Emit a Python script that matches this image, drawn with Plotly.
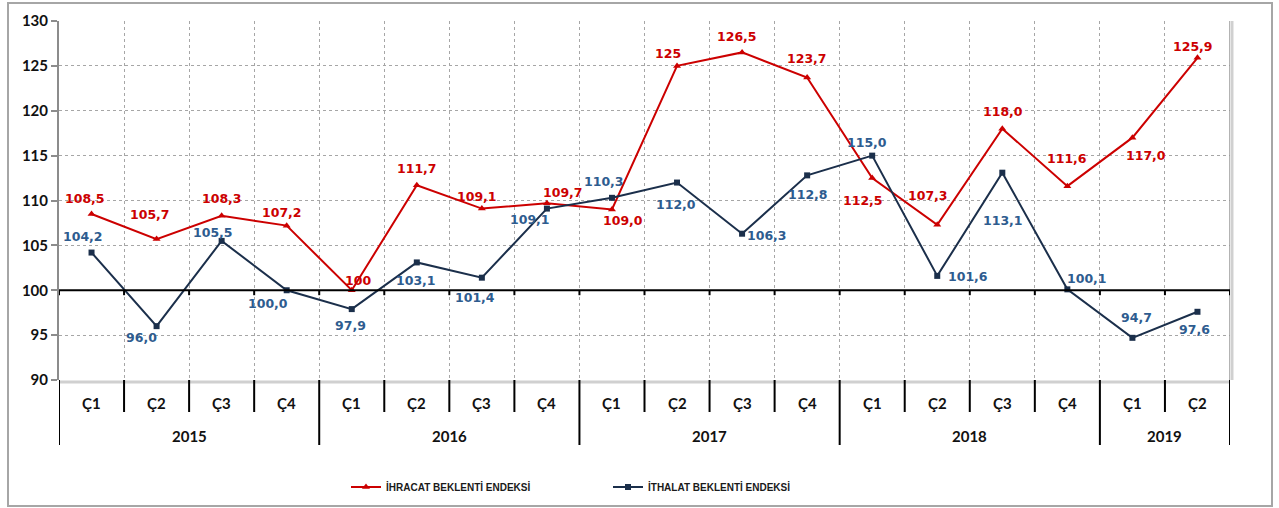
import plotly.graph_objects as go

# ---- data ----
years = ["2015", "2016", "2017", "2018", "2019"]
quarters_per_year = [["Ç1", "Ç2", "Ç3", "Ç4"]] * 4 + [["Ç1", "Ç2"]]
ihracat = [108.5, 105.7, 108.3, 107.2, 100.0, 111.7, 109.1, 109.7, 109.0,
           125.0, 126.5, 123.7, 112.5, 107.3, 118.0, 111.6, 117.0, 125.9]
ihracat_labels = ["108,5", "105,7", "108,3", "107,2", "100", "111,7", "109,1", "109,7", "109,0",
                  "125", "126,5", "123,7", "112,5", "107,3", "118,0", "111,6", "117,0", "125,9"]
ithalat = [104.2, 96.0, 105.5, 100.0, 97.9, 103.1, 101.4, 109.1, 110.3,
           112.0, 106.3, 112.8, 115.0, 101.6, 113.1, 100.1, 94.7, 97.6]
ithalat_labels = ["104,2", "96,0", "105,5", "100,0", "97,9", "103,1", "101,4", "109,1", "110,3",
                  "112,0", "106,3", "112,8", "115,0", "101,6", "113,1", "100,1", "94,7", "97,6"]
series_names = ["İHRACAT BEKLENTİ ENDEKSİ", "İTHALAT BEKLENTİ ENDEKSİ"]
y_ticks = [90, 95, 100, 105, 110, 115, 120, 125, 130]

# ---- label offsets (pixels: dx right, dy down) ----
red_off = [(-7, -15), (-7, -25), (0, -17), (-5, -13), (6, -10), (0, -17), (-5, -12), (16, -11),
           (11, 11), (-9, -12), (-5, -16), (0, -19), (-9, 22), (-9, -29), (1, -17), (0, -28),
           (14, 18), (-4, -11)]
blue_off = [(-9, -16), (-15, 11), (-9, -8), (-19, 13), (-1, 16), (-1, 18), (-7, 20), (-17, 11),
            (-8, -16), (-1, 22), (25, 2), (1, 19), (-5, -13), (31, 1), (1, 48), (20, -11),
            (4, -20), (-3, 18)]

RED = "#CC0000"
NAVY = "#1B2F4B"
BLUE_TXT = "#2E5C8F"
GRID = "#A6A6A6"

n = len(ihracat)
xs = list(range(n))

fig = go.Figure()
fig.add_trace(go.Scatter(
    x=xs, y=ihracat, mode="lines+markers", name=series_names[0],
    line=dict(color=RED, width=2),
    marker=dict(symbol="triangle-up", size=7, color=RED),
))
fig.add_trace(go.Scatter(
    x=xs, y=ithalat, mode="lines+markers", name=series_names[1],
    line=dict(color=NAVY, width=2),
    marker=dict(symbol="square", size=6, color=NAVY),
))

lab_font = dict(family="DejaVu Sans", size=12.5, weight="bold")
annotations = []
for i in range(n):
    dx, dy = red_off[i]
    annotations.append(dict(x=xs[i], y=ihracat[i], xref="x", yref="y", text=ihracat_labels[i],
                            showarrow=False, xshift=dx, yshift=-dy,
                            font=dict(color=RED, **lab_font)))
    dx, dy = blue_off[i]
    annotations.append(dict(x=xs[i], y=ithalat[i], xref="x", yref="y", text=ithalat_labels[i],
                            showarrow=False, xshift=dx, yshift=-dy,
                            font=dict(color=BLUE_TXT, **lab_font)))

axis_font = dict(family="Lato", size=15, color="#111111", weight="bold")
PH = 359.0  # plot height px
PW = 1171.0  # plot width px
def py(pix_below_bottom):
    return -pix_below_bottom / PH

shapes = []
# category labels and dividers
idx = 0
for yi, year in enumerate(years):
    qs = quarters_per_year[yi]
    start = idx
    for q in qs:
        annotations.append(dict(x=idx, y=py(23), xref="x", yref="paper", text=q, showarrow=False,
                                font=axis_font, yanchor="middle"))
        if idx != start:
            shapes.append(dict(type="line", xref="x", yref="paper", x0=idx - 0.5, x1=idx - 0.5,
                               y0=0, y1=py(32), line=dict(color="black", width=2)))
        idx += 1
    annotations.append(dict(x=(start + idx - 1) / 2, y=py(56), xref="x", yref="paper", text=year,
                            showarrow=False, font=axis_font, yanchor="middle"))
    shapes.append(dict(type="line", xref="x", yref="paper", x0=start - 0.5, x1=start - 0.5,
                       y0=0, y1=py(65), line=dict(color="black", width=2)))
shapes.append(dict(type="line", xref="x", yref="paper", x0=n - 0.5, x1=n - 0.5,
                   y0=0, y1=py(65), line=dict(color="black", width=2)))

# shadows of plot area (bottom & right)
shapes.append(dict(type="line", xref="x", yref="paper", x0=-0.5, x1=n - 0.5, y0=py(2), y1=py(2),
                   line=dict(color="#D0D0D0", width=3), layer="below"))
shapes.append(dict(type="line", xref="paper", yref="paper", x0=1.0017, x1=1.0017, y0=0, y1=1,
                   line=dict(color="#D0D0D0", width=3), layer="below"))
shapes.append(dict(type="line", xref="x", yref="paper", x0=n - 0.5, x1=n - 0.5, y0=0, y1=1,
                   line=dict(color="#9A9A9A", width=1.5)))

# 100 baseline with ticks
shapes.append(dict(type="line", xref="x", yref="y", x0=-0.5, x1=n - 0.5, y0=100, y1=100,
                   line=dict(color="black", width=2)))
for b in range(n + 1):
    shapes.append(dict(type="line", xref="x", yref="y", x0=b - 0.5, x1=b - 0.5, y0=100, y1=99.45,
                       line=dict(color="black", width=2)))

# outer frame
shapes.append(dict(type="rect", xref="paper", yref="paper",
                   x0=(8 - 59) / PW, x1=(1272 - 59) / PW, y0=(380 - 506) / PH, y1=(380 - 3) / PH,
                   line=dict(color="#A6A6A6", width=2), layer="below"))

fig.update_layout(
    width=1279, height=508,
    margin=dict(l=59, r=49, t=21, b=128, autoexpand=False),
    paper_bgcolor="white", plot_bgcolor="white",
    showlegend=True,
    legend=dict(orientation="h", x=(346 - 59) / PW, xanchor="left", y=(380 - 487) / PH,
                yanchor="middle", entrywidth=217, entrywidthmode="pixels",
                font=dict(family="Liberation Sans", size=10, color="#1A1A1A", weight="bold"),
                bgcolor="rgba(0,0,0,0)", traceorder="normal"),
    annotations=annotations,
    shapes=shapes,
    xaxis=dict(range=[-0.5, n - 0.5], tickvals=[b + 0.5 for b in range(n - 1)],
               showticklabels=False, showgrid=True, gridcolor=GRID, griddash="dot", gridwidth=1,
               zeroline=False, showline=False, ticks=""),
    yaxis=dict(range=[90, 130], tickvals=y_ticks, ticktext=[str(v) for v in y_ticks],
               showgrid=True, gridcolor=GRID, griddash="dot", gridwidth=1, zeroline=False,
               showline=True, linecolor="#8C8C8C", linewidth=2, ticks="outside", ticklen=6,
               tickcolor="#8C8C8C", tickwidth=1.5, tickfont=axis_font),
)

fig.write_html("out.html", config={"displayModeBar": False},
               post_script="document.body.style.margin='0';document.body.style.padding='0';")
